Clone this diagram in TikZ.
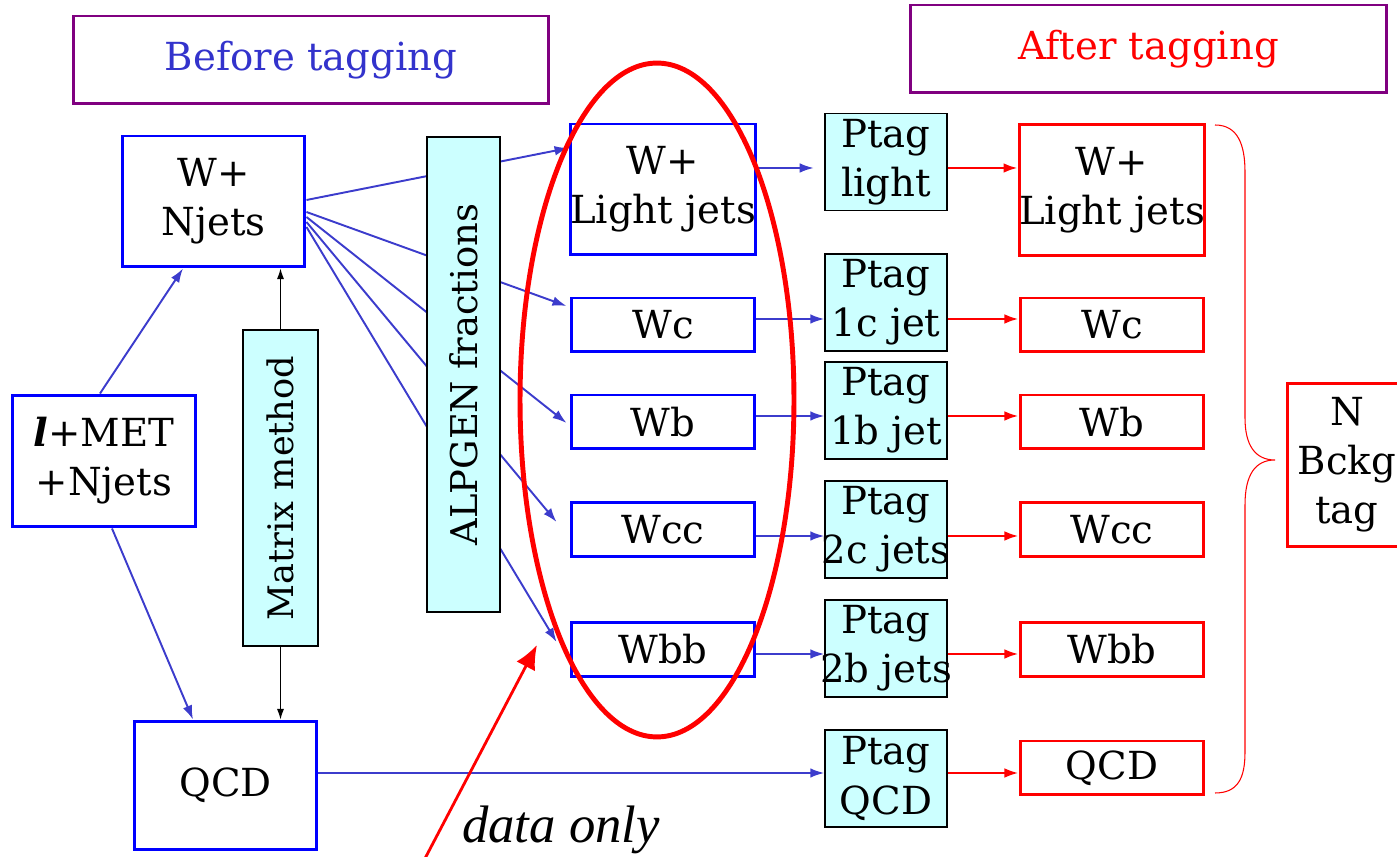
\documentclass[tikz,border=0pt]{standalone}
\usepackage{fontspec}
\setmainfont{DejaVu Serif}
\newfontfamily\datafont{Liberation Serif}
\usetikzlibrary{arrows.meta,calc}
\pgfdeclarelayer{background}
\pgfsetlayers{background,main}
\definecolor{boxblue}{HTML}{0000FF}
\definecolor{linkblue}{HTML}{3C3CCC}
\definecolor{purp}{HTML}{800080}
\definecolor{cyanfill}{HTML}{CCFFFF}
\definecolor{txtblue}{HTML}{3333CC}
\newcommand{\fsz}{\fontsize{22pt}{28pt}\selectfont}
\newcommand{\fitw}[1]{\makebox[2.4cm][c]{#1}}
\tikzset{
  bbox/.style={draw=boxblue, line width=1.7pt, inner sep=0pt, align=center, font=\fsz},
  rbox/.style={draw=red, line width=1.7pt, inner sep=0pt, align=center, font=\fsz},
  cbox/.style={draw=black, fill=cyanfill, line width=0.8pt, inner sep=0pt, align=center, font=\fsz},
  hbox/.style={draw=purp, line width=1.7pt, inner sep=0pt, font=\fsz},
  blink/.style={draw=linkblue, line width=1.1pt, -{Latex[length=8pt,width=5.5pt]}},
  rlink/.style={draw=red, line width=1.4pt, -{Latex[length=8pt,width=5.5pt]}},
  klink/.style={draw=black, line width=0.6pt, -{Latex[length=6pt,width=4pt]}},
  smallbox/.style={minimum width=3.68cm, minimum height=1.08cm},
  bigbox/.style={minimum width=3.68cm, minimum height=2.62cm},
  ptagbox/.style={cbox, minimum width=2.44cm, minimum height=1.94cm},
}
\begin{document}
\begin{tikzpicture}[x=0.02cm,y=-0.02cm]
\useasboundingbox (0,0) rectangle (1397,857);

% headers
\node[hbox, minimum width=9.52cm, minimum height=1.76cm, text=txtblue] (before) at (311,60) {Before tagging};
\node[hbox, minimum width=9.54cm, minimum height=1.76cm, text=red] (after) at (1148.5,49) {After tagging};

% left column
\node[bbox, minimum width=3.66cm, minimum height=2.62cm] (wnj) at (213.5,201.5) {W+\\Njets};
\node[bbox, minimum width=3.68cm, minimum height=2.64cm] (lmet) at (104,461) {\textit{\textbf{l}}+MET\\+Njets};
\node[bbox, minimum width=3.66cm, minimum height=2.58cm] (qcdl) at (225.5,785.5) {QCD};
\node[cbox, rotate=90, minimum width=6.32cm, minimum height=1.5cm, font=\fontsize{20pt}{24pt}\selectfont] (matrix) at (280.5,488) {Matrix method};
\node[cbox, rotate=90, minimum width=9.5cm, minimum height=1.46cm, font=\fontsize{21pt}{25pt}\selectfont] (alpgen) at (463.5,374.5) {ALPGEN fractions};

% middle column
\node[bbox, bigbox] (wl) at (663,189.5) {W+\\Light jets};
\node[bbox, smallbox] (wc) at (663,325) {Wc};
\node[bbox, smallbox] (wb) at (663,422) {Wb};
\node[bbox, smallbox] (wcc) at (663,529.5) {Wcc};
\node[bbox, smallbox] (wbb) at (663,649.5) {Wbb};

% ptag column
\node[ptagbox] (ptl) at (886,162) {Ptag\\light};
\node[ptagbox] (ptc) at (886,302.5) {Ptag\\1c jet};
\node[ptagbox] (ptb) at (886,410.5) {Ptag\\1b jet};
\node[ptagbox] (ptcc) at (886,529.5) {Ptag\\\fitw{2c jets}};
\node[ptagbox] (ptbb) at (886,648.5) {Ptag\\\fitw{2b jets}};
\node[ptagbox] (ptq) at (886,778.5) {Ptag\\QCD};

% right column
\node[rbox, bigbox] (rwl) at (1112,190) {W+\\Light jets};
\node[rbox, smallbox] (rwc) at (1112,325) {Wc};
\node[rbox, smallbox] (rwb) at (1112,422) {Wb};
\node[rbox, smallbox] (rwcc) at (1112,529.5) {Wcc};
\node[rbox, smallbox] (rwbb) at (1112,649.5) {Wbb};
\node[rbox, smallbox] (rqcd) at (1112,768) {QCD};
\node[rbox, minimum width=2.4cm, minimum height=3.28cm] (nbk) at (1347,465) {N\\Bckg\\tag};

% row coordinates
\coordinate (r1) at (0,168);
\coordinate (r2) at (0,319);
\coordinate (r3) at (0,416);
\coordinate (r4) at (0,536);
\coordinate (r5) at (0,654);
\coordinate (r6) at (0,773);

% fan from W+Njets (behind ALPGEN box)
\begin{pgfonlayer}{background}
\draw[blink] ($(wnj.east)+(0,-1.5)$) -- ($(wl.west)+(0,-41.5)$);
\draw[blink] ($(wnj.east)+(0,10.5)$) -- ($(wc.west)+(-3,-19)$);
\draw[blink] ($(wnj.east)+(0,15.5)$) -- ($(wb.west)+(-3,1)$);
\draw[blink] ($(wnj.east)+(0,20.5)$) -- ($(wcc.west)+(-13,-7.5)$);
\draw[blink] ($(wnj.east)+(0,25.5)$) -- ($(wbb.west)+(-13,-7.5)$);
\end{pgfonlayer}

% lmet links
\draw[blink] ($(lmet.north)+(-4,0)$) -- ($(wnj.south)+(-30.5,0)$);
\draw[blink] ($(lmet.south)+(8,0)$) -- ($(qcdl.north)+(-32.5,0)$);

% matrix method links
\draw[klink] (matrix.east) -- (matrix.east |- wnj.south);
\draw[klink] (matrix.west) -- (matrix.west |- qcdl.north);

% blue to ptag
\draw[blink, shorten >=6pt] (wl.east |- r1) -- (ptl.west |- r1);
\draw[blink] (wc.east |- r2) -- (ptc.west |- r2);
\draw[blink] (wb.east |- r3) -- (ptb.west |- r3);
\draw[blink] (wcc.east |- r4) -- (ptcc.west |- r4);
\draw[blink] (wbb.east |- r5) -- (ptbb.west |- r5);
\draw[blink] (qcdl.east |- r6) -- (ptq.west |- r6);

% red to after
\draw[rlink] (ptl.east |- r1) -- (rwl.west |- r1);
\draw[rlink] (ptc.east |- r2) -- (rwc.west |- r2);
\draw[rlink] (ptb.east |- r3) -- (rwb.west |- r3);
\draw[rlink] (ptcc.east |- r4) -- (rwcc.west |- r4);
\draw[rlink] (ptbb.east |- r5) -- (rwbb.west |- r5);
\draw[rlink] (ptq.east |- r6) -- (rqcd.west |- r6);

% brace
\draw[red, line width=0.6pt] (1215,125) .. controls (1238,125) and (1245,145) .. (1245,172) -- (1245,418)
  .. controls (1245,445) and (1255,460) .. (1275,460)
  .. controls (1255,460) and (1245,475) .. (1245,505) -- (1245,752)
  .. controls (1245,778) and (1238,793) .. (1215,793);

% ellipse
\draw[red, line width=2.8pt] (657,400) ellipse [x radius=2.74cm, y radius=6.74cm];

% data only arrow
\coordinate (dstart) at (420,868);
\coordinate (dtip) at (537,645);
\draw[red, line width=1.6pt, -{Latex[length=0.48cm,width=0.42cm]}] (dstart) -- (dtip);
\node[font=\fontsize{30pt}{33pt}\selectfont\datafont\itshape] (data) at (561,830) {data only};
\end{tikzpicture}
\end{document}
